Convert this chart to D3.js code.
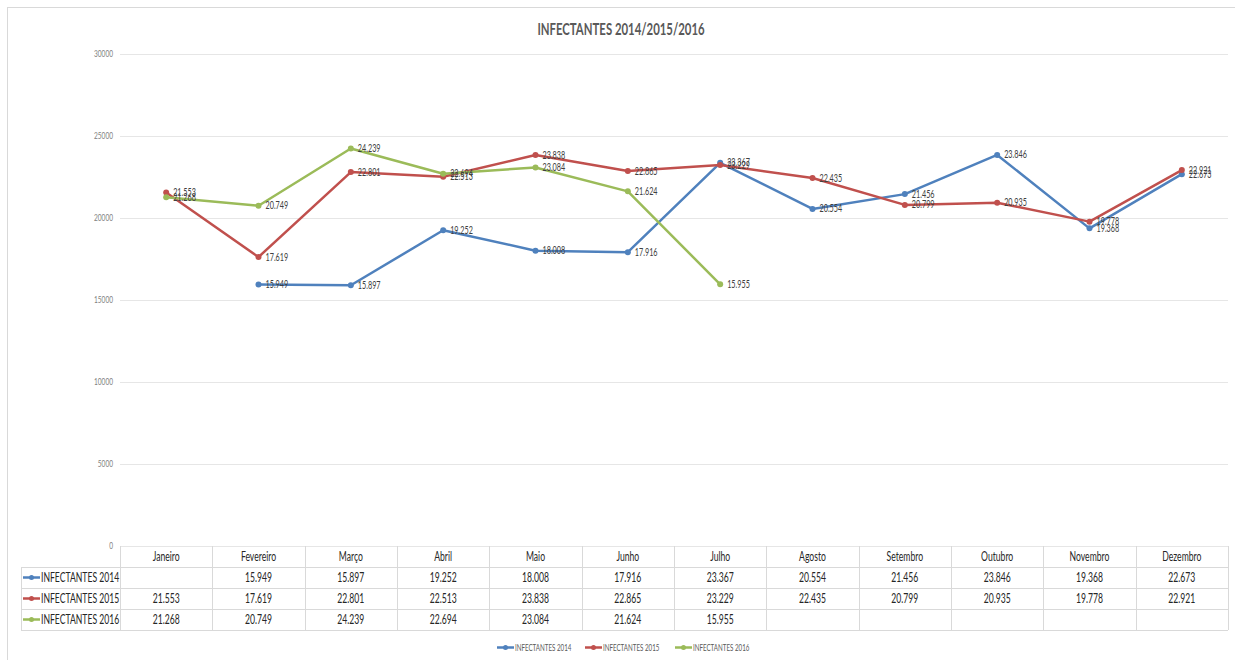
<!DOCTYPE html>
<html><head><meta charset="utf-8">
<script src="https://cdn.jsdelivr.net/npm/d3@7"></script>
<style>body{margin:0;background:#fff;} svg{display:block;}</style>
</head><body>
<svg id="chart" width="1235" height="660"></svg>
<script>
const months = ["Janeiro","Fevereiro","Março","Abril","Maio","Junho","Julho","Agosto","Setembro","Outubro","Novembro","Dezembro"];
const seriesNames = ["INFECTANTES 2014","INFECTANTES 2015","INFECTANTES 2016"];
const values2014 = [null,15949,15897,19252,18008,17916,23367,20554,21456,23846,19368,22673];
const values2015 = [21553,17619,22801,22513,23838,22865,23229,22435,20799,20935,19778,22921];
const values2016 = [21268,20749,24239,22694,23084,21624,15955,null,null,null,null,null];
const colors = ["#4F81BD","#C0504D","#9BBB59"];
const yTicks = [0,5000,10000,15000,20000,25000,30000];
const title = "INFECTANTES 2014/2015/2016";

const series = [values2014, values2015, values2016];
const FONT = "Lato, 'Liberation Sans', sans-serif";
const SX = 0.69; // horizontal compression of the reference's text
const svg = d3.select("#chart");
const fmt = v => d3.format(",")(v).replace(/,/g,".");

function txt(g, x, y, s, size, fill, anchor, weight){
  return g.append("text")
    .attr("transform",`translate(${x},${y}) scale(${SX},1)`)
    .attr("font-family",FONT).attr("font-size",size).attr("fill",fill)
    .attr("text-anchor",anchor||"start").attr("font-weight",weight||"normal")
    .text(s);
}

// outer border
svg.append("rect").attr("x",7.5).attr("y",7.5).attr("width",1240).attr("height",670)
  .attr("fill","none").attr("stroke","#d9d9d9");

const x = d3.scaleBand().domain(months).range([120,1228]);
const y = d3.scaleLinear().domain([0,30000]).range([546,54]);

txt(svg, 621, 35, title, 16.5, "#595959", "middle", "bold");

// gridlines
const gy = svg.append("g");
gy.selectAll("line").data(yTicks).join("line")
  .attr("x1",120).attr("x2",1228).attr("y1",d=>Math.round(y(d))+0.5).attr("y2",d=>Math.round(y(d))+0.5)
  .attr("stroke","#e6e6e6").attr("stroke-width",1);
yTicks.forEach(t=>txt(gy, 113, y(t)+3, String(t), 9.5, "#7f7f7f", "end"));

// table
const rowH = 21;
const tTop = 546;
const tb = svg.append("g");
const lineC = "#d9d9d9";
for (let i=1;i<=4;i++){
  tb.append("line").attr("x1",21).attr("x2",1228).attr("y1",tTop+i*rowH+0.5).attr("y2",tTop+i*rowH+0.5).attr("stroke",lineC);
}
const vx = months.map(m=>x(m)).concat([1228]);
tb.selectAll("line.v").data(vx).join("line").attr("class","v")
  .attr("x1",d=>Math.round(d)+0.5).attr("x2",d=>Math.round(d)+0.5).attr("y1",tTop).attr("y2",tTop+4*rowH).attr("stroke",lineC);
tb.append("line").attr("x1",21.5).attr("x2",21.5).attr("y1",tTop+rowH).attr("y2",tTop+4*rowH).attr("stroke",lineC);
months.forEach(m=>txt(tb, x(m)+x.bandwidth()/2, tTop+15, m, 12.5, "#262626", "middle"));
series.forEach((vals,si)=>{
  const ry = tTop+(si+1)*rowH;
  tb.append("line").attr("x1",23).attr("x2",40).attr("y1",ry+10.5).attr("y2",ry+10.5).attr("stroke",colors[si]).attr("stroke-width",2.5);
  tb.append("circle").attr("cx",31.5).attr("cy",ry+10.5).attr("r",2.5).attr("fill",colors[si]);
  txt(tb, 41, ry+15, seriesNames[si], 12.5, "#262626");
  vals.forEach((v,i)=>{ if(v!=null) txt(tb, x(months[i])+x.bandwidth()/2, ry+15, fmt(v), 12.5, "#262626", "middle"); });
});

// lines
const cx = m => x(m)+x.bandwidth()/2;
series.forEach((vals,si)=>{
  const pts = vals.map((v,i)=>({v,m:months[i]})).filter(d=>d.v!=null);
  const g = svg.append("g");
  g.append("path").datum(pts).attr("fill","none").attr("stroke",colors[si]).attr("stroke-width",2.5)
    .attr("stroke-linejoin","round")
    .attr("d",d3.line().x(d=>cx(d.m)).y(d=>y(d.v)));
  g.selectAll("circle").data(pts).join("circle").attr("cx",d=>cx(d.m)).attr("cy",d=>y(d.v)).attr("r",3).attr("fill",colors[si]);
});
const lg = svg.append("g");
series.forEach((vals,si)=>{
  vals.forEach((v,i)=>{ if(v!=null) txt(lg, cx(months[i])+7, y(v)+3.5, fmt(v), 10.5, "#404040"); });
});

// legend
const leg = svg.append("g");
const legX = [497,585,675];
seriesNames.forEach((n,i)=>{
  leg.append("line").attr("x1",legX[i]).attr("x2",legX[i]+17).attr("y1",647.5).attr("y2",647.5).attr("stroke",colors[i]).attr("stroke-width",2.5);
  leg.append("circle").attr("cx",legX[i]+8.5).attr("cy",647.5).attr("r",2.5).attr("fill",colors[i]);
  txt(leg, legX[i]+18, 650.5, n, 9, "#595959");
});
</script>
</body></html>
